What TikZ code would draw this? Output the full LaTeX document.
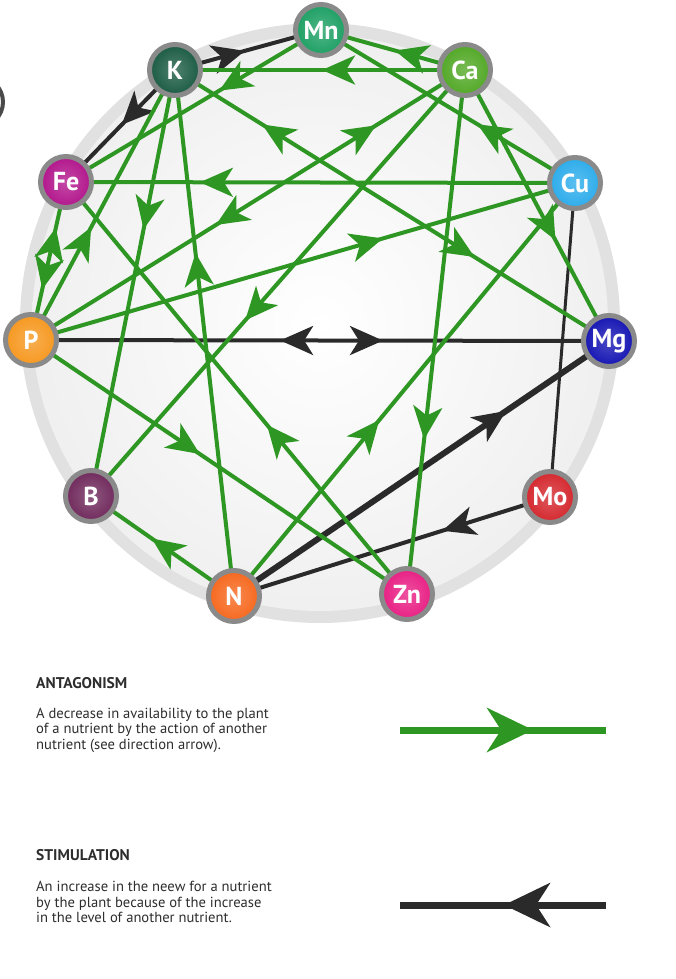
\documentclass[tikz,border=0pt]{standalone}
\usepackage{fontspec}
\setmainfont{PT Sans}
\usetikzlibrary{arrows.meta, decorations.markings, backgrounds}
\definecolor{antgreen}{RGB}{46,150,34}
\definecolor{stimdark}{RGB}{42,42,42}
\definecolor{ringgray}{RGB}{138,138,138}
\definecolor{discgray}{RGB}{225,225,225}
\definecolor{legtext}{RGB}{45,45,45}
\definecolor{mncol}{RGB}{30,160,100}
\definecolor{kcol}{RGB}{28,92,68}
\definecolor{cacol}{RGB}{82,168,38}
\definecolor{fecol}{RGB}{178,22,140}
\definecolor{cucol}{RGB}{45,172,235}
\definecolor{pcol}{RGB}{246,152,32}
\definecolor{mgcol}{RGB}{22,22,180}
\definecolor{bcol}{RGB}{112,42,92}
\definecolor{mocol}{RGB}{212,40,46}
\definecolor{ncol}{RGB}{246,104,30}
\definecolor{zncol}{RGB}{232,32,132}

\begin{document}
\begin{tikzpicture}[x=1pt, y=-1pt,
  elem/.style={circle, minimum size=51pt, inner sep=0pt, draw=ringgray, line width=5pt, inner color=#1!78!white, outer color=#1, text=white, font=\fontsize{26}{26}\selectfont\bfseries},
  ant/.style={color=antgreen, line width=4pt},
  stim/.style={color=stimdark, line width=4pt},
  fwd/.style={postaction={decorate, decoration={markings, mark=at position #1 with {\arrow{Stealth[length=33pt, width=29pt, inset=9pt]}}}}},
  rev/.style={postaction={decorate, decoration={markings, mark=at position #1 with {\arrowreversed{Stealth[length=33pt, width=29pt, inset=9pt]}}}}},
  legarr/.style={postaction={decorate, decoration={markings, mark=at position #1 with {\arrow{Stealth[length=46pt, width=44pt, inset=14pt]}}}}},
  head/.style={anchor=west, inner sep=0pt, font=\fontsize{15.5}{16}\selectfont\bfseries, text=legtext},
  desc/.style={anchor=west, inner sep=0pt, align=left, font=\fontsize{14.6}{15.5}\selectfont, text=legtext}
]
\useasboundingbox (0,0) rectangle (675,979);
% nutrients round the wheel
\node[elem=mncol] (Mn) at (321,30) {Mn};
\node[elem=kcol] (K) at (175,70) {K};
\node[elem=cacol] (Ca) at (465,70) {Ca};
\node[elem=fecol] (Fe) at (66,182) {Fe};
\node[elem=cucol] (Cu) at (575,183) {Cu};
\node[elem=pcol] (P) at (31,340) {P};
\node[elem=mgcol] (Mg) at (609,341) {Mg};
\node[elem=bcol] (B) at (91,496) {B};
\node[elem=mocol] (Mo) at (550,497) {Mo};
\node[elem=ncol] (N) at (234,596) {N};
\node[elem=zncol] (Zn) at (407,594) {Zn};
\begin{scope}[on background layer]
  \draw[stimdark!85, line width=4pt] (-22,102) circle[radius=25];
  \fill[discgray] (320,323) circle[radius=300];
  \shade[inner color=white, outer color=gray!12] (320,323) circle[radius=288];
  % stimulation
  \draw[stim, fwd=0.479] (K.center) -- (Mn.center);
  \draw[stim, fwd=0.489] (K.center) -- (Fe.center);
  \draw[stim, rev=0.431, fwd=0.609] (P.center) -- (Mg.center);
  \draw[stim, line width=3pt] (Cu.center) -- (Mo.center);
  \draw[stim, line width=6pt, fwd=0.726] (N.center) -- (Mg.center);
  \draw[stim, fwd=0.341] (Mo.center) -- (N.center);
  % antagonism
  \draw[ant, fwd=0.493] (Ca.center) -- (K.center);
  \draw[ant, fwd=0.487] (Ca.center) -- (Mn.center);
  \draw[ant, fwd=0.399] (Mn.center) -- (Fe.center);
  \draw[ant, fwd=0.384] (Cu.center) -- (Mn.center);
  \draw[ant, rev=0.201, fwd=0.690] (K.center) -- (Mg.center);
  \draw[ant, rev=0.426, fwd=0.795] (P.center) -- (Ca.center);
  \draw[ant, fwd=0.588] (Ca.center) -- (B.center);
  \draw[ant, fwd=0.705] (Ca.center) -- (Zn.center);
  \draw[ant, fwd=0.628] (Ca.center) -- (Mg.center);
  \draw[ant, fwd=0.737] (Cu.center) -- (Fe.center);
  \draw[ant, fwd=0.647] (P.center) -- (Cu.center);
  \draw[ant, fwd=0.426] (N.center) -- (Cu.center);
  \draw[ant, rev=0.321, fwd=0.711] (P.center) -- (Fe.center);
  \draw[ant, fwd=0.418] (P.center) -- (K.center);
  \draw[ant, fwd=0.374] (K.center) -- (B.center);
  \draw[ant, fwd=0.652] (N.center) -- (K.center);
  \draw[ant, fwd=0.449] (P.center) -- (Zn.center);
  \draw[ant, fwd=0.411] (Zn.center) -- (Fe.center);
  \draw[ant, fwd=0.575] (N.center) -- (B.center);
\end{scope}
% legend
\node[head] (antt) at (36,683) {ANTAGONISM};
\node[desc] (antd) at (36,730) {A decrease in availability to the plant\\of a nutrient by the action of another\\nutrient (see direction arrow).};
\coordinate (antL) at (400,730);
\coordinate (antR) at (606,730);
\draw[ant, line width=7pt, legarr=0.646] (antL) -- (antR);
\node[head] (stimt) at (36,855) {STIMULATION};
\node[desc] (stimd) at (36,902) {An increase in the neew for a nutrient\\by the plant because of the increase\\in the level of another nutrient.};
\coordinate (stimL) at (400,905);
\coordinate (stimR) at (606,905);
\draw[stim, line width=7pt, legarr=0.495] (stimR) -- (stimL);
\end{tikzpicture}
\end{document}
